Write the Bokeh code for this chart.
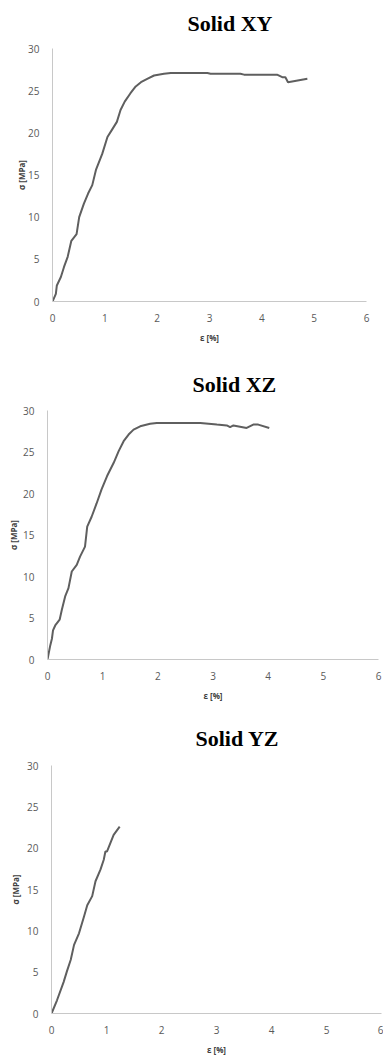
from bokeh.plotting import figure
from bokeh.models import Range1d, FixedTicker, Title
from bokeh.embed import file_html
from bokeh.resources import INLINE

# ---- data ----
xy_strain = [0, 0.064, 0.083, 0.16, 0.22, 0.29, 0.36, 0.46, 0.51, 0.60, 0.68, 0.76, 0.83, 0.95,
             1.05, 1.15, 1.23, 1.30, 1.38, 1.49, 1.59, 1.69, 1.81, 1.94, 2.13, 2.26, 2.96, 3.02,
             3.59, 3.66, 4.29, 4.39, 4.45, 4.50, 4.87]
xy_stress = [0, 0.9, 1.9, 2.9, 4.1, 5.3, 7.2, 8.0, 10.0, 11.6, 12.8, 13.8, 15.6, 17.5,
             19.5, 20.5, 21.3, 22.7, 23.7, 24.7, 25.5, 26.0, 26.4, 26.8, 27.0, 27.1, 27.1, 27.0,
             27.0, 26.9, 26.9, 26.6, 26.6, 26.0, 26.4]

xz_strain = [0, 0.02, 0.05, 0.08, 0.10, 0.14, 0.22, 0.26, 0.32, 0.38, 0.44, 0.53, 0.59, 0.68,
             0.72, 0.80, 0.89, 0.98, 1.08, 1.20, 1.29, 1.38, 1.47, 1.56, 1.68, 1.86, 1.98, 2.77,
             3.07, 3.25, 3.31, 3.37, 3.61, 3.73, 3.82, 4.02]
xz_stress = [0, 0.7, 1.7, 2.5, 3.5, 4.1, 4.8, 6.0, 7.6, 8.6, 10.6, 11.4, 12.4, 13.6,
             16.0, 17.2, 18.8, 20.5, 22.1, 23.7, 25.1, 26.3, 27.1, 27.7, 28.1, 28.4, 28.5, 28.5,
             28.3, 28.2, 28.0, 28.2, 27.9, 28.3, 28.3, 27.9]

yz_strain = [0, 0.10, 0.22, 0.28, 0.35, 0.41, 0.50, 0.59, 0.65, 0.74, 0.80, 0.89, 0.95, 0.98,
             1.01, 1.07, 1.13, 1.24]
yz_stress = [0, 1.6, 3.8, 5.1, 6.5, 8.3, 9.7, 11.7, 13.1, 14.2, 16.0, 17.4, 18.6, 19.6,
             19.6, 20.6, 21.6, 22.6]

titles = ["Solid XY", "Solid XZ", "Solid YZ"]
x_ticks = [0, 1, 2, 3, 4, 5, 6]
y_ticks = [0, 5, 10, 15, 20, 25, 30]
x_label = "ε [%]"
y_label = "σ [MPa]"

LINE = "#5f5f5f"
AXIS = "#c8c8c8"
TICK_TXT = "#595959"
TXT_FONT = "Open Sans"

def make(title, xs, ys, h, left, right, bottom, tstand, toff, ylab_off):
    p = figure(width=383, height=h, output_backend="svg", toolbar_location=None,
               x_range=Range1d(0, 6), y_range=Range1d(0, 30),
               min_border_left=left, min_border_right=right,
               min_border_top=0, min_border_bottom=bottom)
    p.title = None
    t = Title(text=title, align="left", vertical_align="top", offset=toff,
              text_font="Liberation Serif", text_font_style="bold",
              text_font_size="22px", text_color="#000000", standoff=tstand)
    p.add_layout(t, "above")
    p.outline_line_color = None
    p.xgrid.grid_line_color = None
    p.ygrid.grid_line_color = None
    p.line(xs, ys, line_color=LINE, line_width=2)
    for ax, ticks in ((p.xaxis[0], x_ticks), (p.yaxis[0], y_ticks)):
        ax.ticker = FixedTicker(ticks=ticks)
        ax.axis_line_color = AXIS
        ax.axis_line_width = 1
        ax.major_tick_line_color = None
        ax.minor_tick_line_color = None
        ax.major_label_text_font = TXT_FONT
        ax.major_label_text_font_size = "10px"
        ax.major_label_text_color = TICK_TXT
        ax.axis_label_text_font = TXT_FONT
        ax.axis_label_text_font_size = "8px"
        ax.axis_label_text_font_style = "bold"
        ax.axis_label_text_color = "#404040"
    p.xaxis[0].axis_label = x_label
    p.yaxis[0].axis_label = y_label
    p.xaxis[0].major_label_standoff = 6
    p.yaxis[0].major_label_standoff = 7
    p.xaxis[0].axis_label_standoff = 7
    p.yaxis[0].axis_label_standoff = ylab_off
    return p

p1 = make(titles[0], xy_strain, xy_stress, 359, 52, 17, 58, 21, 135, -2)
p2 = make(titles[1], xz_strain, xz_stress, 354, 47, 5, 54, 24, 145, 1)
p3 = make(titles[2], yz_strain, yz_stress, 346, 51, 2, 46, 25, 144, 3)

p = [p1, p2, p3]
open("out.html", "w").write(file_html(p, INLINE))
